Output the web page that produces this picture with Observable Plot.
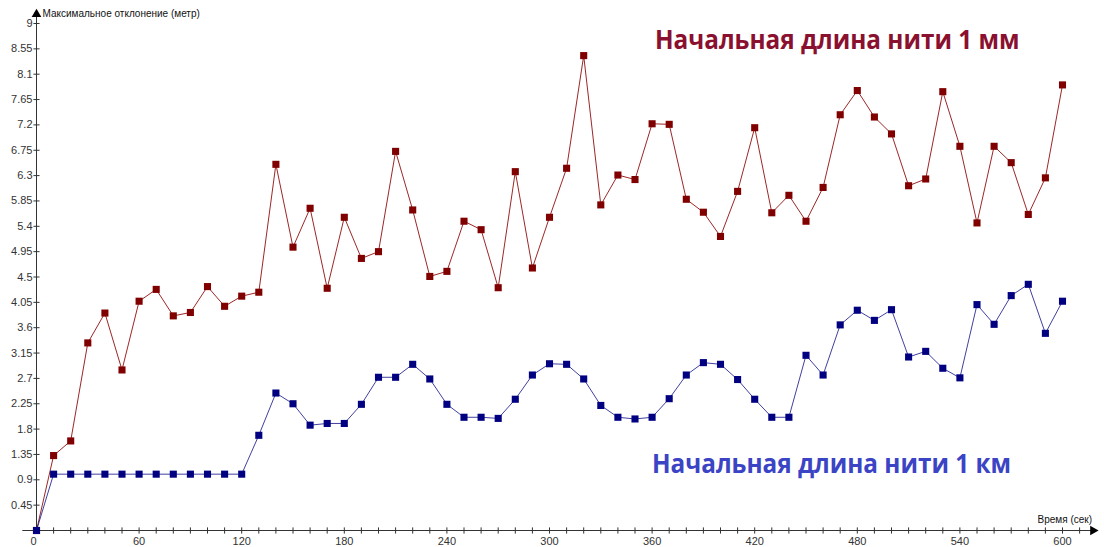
<!DOCTYPE html>
<html>
<head>
<meta charset="utf-8">
<script src="https://cdn.jsdelivr.net/npm/d3@7"></script>
<script src="https://cdn.jsdelivr.net/npm/@observablehq/plot@0.6"></script>
<style>
  html, body { margin: 0; padding: 0; background: #fff; }
  #wrap { position: relative; width: 1104px; height: 547px; overflow: hidden; }
  .ttl { position: absolute; font-family: "Open Sans", sans-serif; font-weight: 700; font-size: 27px; white-space: nowrap; line-height: 1; transform: scaleX(0.9); transform-origin: left top; }
</style>
</head>
<body>
<div id="wrap">
  <div id="chart"></div>
  <div class="ttl" id="t1" style="left:655px; top:25px; color:#8a1030;">Начальная длина нити 1 мм</div>
  <div class="ttl" id="t2" style="left:652px; top:449px; color:#3b44c4;">Начальная длина нити 1 км</div>
</div>
<script>
// Time (seconds)
const times = d3.range(0, 601, 10);
// Initial thread length 1 mm (red)
const mmValues = [0, 1.33, 1.59, 3.33, 3.86, 2.85, 4.07, 4.28, 3.81, 3.87, 4.33, 3.98, 4.16, 4.23,
  6.50, 5.03, 5.72, 4.30, 5.56, 4.83, 4.95, 6.73, 5.69, 4.51, 4.60, 5.49, 5.34, 4.31, 6.37, 4.66,
  5.56, 6.43, 8.43, 5.78, 6.31, 6.23, 7.22, 7.21, 5.88, 5.65, 5.22, 6.02, 7.15, 5.64, 5.95, 5.49,
  6.09, 7.38, 7.81, 7.34, 7.04, 6.12, 6.24, 7.79, 6.82, 5.46, 6.82, 6.53, 5.61, 6.26, 7.91];
// Initial thread length 1 km (blue)
const kmValues = [0, 1.0, 1.0, 1.0, 1.0, 1.0, 1.0, 1.0, 1.0, 1.0, 1.0, 1.0, 1.0, 1.69,
  2.44, 2.25, 1.87, 1.90, 1.90, 2.24, 2.72, 2.72, 2.95, 2.69, 2.24, 2.01, 2.01, 1.99, 2.33, 2.76,
  2.96, 2.95, 2.69, 2.22, 2.01, 1.98, 2.01, 2.34, 2.76, 2.98, 2.95, 2.68, 2.33, 2.01, 2.01, 3.11,
  2.76, 3.65, 3.91, 3.73, 3.92, 3.08, 3.18, 2.88, 2.71, 4.01, 3.66, 4.17, 4.37, 3.50, 4.07];

const yTicks = [0.45, 0.9, 1.35, 1.8, 2.25, 2.7, 3.15, 3.6, 4.05, 4.5, 4.95, 5.4, 5.85, 6.3, 6.75, 7.2, 7.65, 8.1, 8.55, 9];
const xTickLabels = [60, 120, 180, 240, 300, 360, 420, 480, 540, 600];
const xZeroLabel = [0];
const xMinorTicks = d3.range(0, 611, 10);
const yAxisTop = 9.2;      // arrow tip of vertical axis
const xAxisStart = -8;     // left end of horizontal axis
const xAxisEnd = 619;      // arrow tip of horizontal axis
const yLabel = "Максимальное отклонение (метр)";
const xLabel = "Время (сек)";

const mm = times.map((t, i) => ({t, v: mmValues[i]}));
const km = times.map((t, i) => ({t, v: kmValues[i]}));

const font = "'Liberation Sans', Arial, sans-serif";

const chart = Plot.plot({
  width: 1104,
  height: 547,
  marginLeft: 36,
  marginRight: 42,
  marginTop: 23,
  marginBottom: 17,
  style: {fontFamily: font, background: "#fff"},
  x: {domain: [0, 600], axis: null},
  y: {domain: [0, 9], axis: null},
  marks: [
    // axes lines
    Plot.ruleX([0], {y1: 0, y2: yAxisTop, stroke: "#333", strokeWidth: 1}),
    Plot.ruleY([0], {x1: xAxisStart, x2: xAxisEnd, stroke: "#333", strokeWidth: 1}),
    Plot.dot([{x: 0, y: yAxisTop}], {x: "x", y: "y", symbol: "triangle", r: 3.6, fill: "#000", stroke: "none", dy: 2}),
    Plot.dot([{x: xAxisEnd, y: 0}], {x: "x", y: "y", symbol: "triangle", r: 3.6, fill: "#000", stroke: "none", rotate: 90, dx: -2}),
    // y ticks (crossing)
    Plot.link(yTicks, {x1: -1.8, x2: 1.8, y1: d => d, y2: d => d, stroke: "#333"}),
    Plot.text(yTicks, {x: 0, y: d => d, text: d => String(d), dx: -4, textAnchor: "end", fontSize: 11, fill: "#333"}),
    // x ticks
    Plot.link(xMinorTicks, {x1: d => d, x2: d => d, y1: -0.055, y2: 0.055, stroke: "#333"}),
    Plot.text(xTickLabels, {x: d => d, y: 0, text: d => String(d), dy: 11, textAnchor: "middle", fontSize: 11, fill: "#333"}),
    Plot.text(xZeroLabel, {x: d => d, y: 0, text: d => String(d), dy: 11, dx: -3, textAnchor: "middle", fontSize: 11, fill: "#333"}),
    // axis labels
    Plot.text([yLabel], {x: 0, y: yAxisTop, text: d => d, dx: 6, dy: 2, textAnchor: "start", fontSize: 10, fill: "#111"}),
    Plot.text([xLabel], {x: xAxisEnd, y: 0, text: d => d, dx: -3, dy: -11, textAnchor: "end", fontSize: 10, fill: "#111"}),
    // series
    Plot.line(mm, {x: "t", y: "v", stroke: "#8b0000", strokeWidth: 1, strokeOpacity: 0.85}),
    Plot.line(km, {x: "t", y: "v", stroke: "#000080", strokeWidth: 1, strokeOpacity: 0.75}),
    Plot.dot(mm, {x: "t", y: "v", symbol: "square", r: 4, fill: "#800000", stroke: "none"}),
    Plot.dot(km, {x: "t", y: "v", symbol: "square", r: 4, fill: "#000080", stroke: "none"})
  ]
});
document.getElementById("chart").appendChild(chart);
</script>
</body>
</html>
